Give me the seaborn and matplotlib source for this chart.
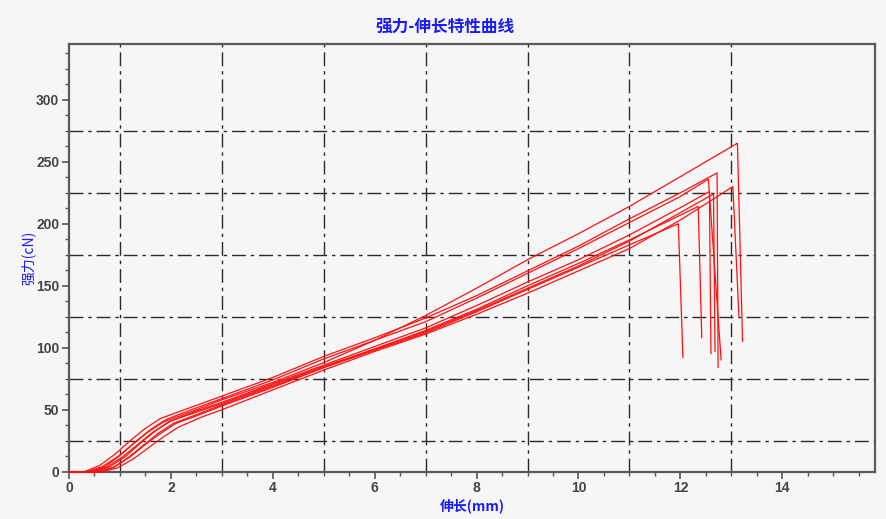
import numpy as np
import pandas as pd
import matplotlib
matplotlib.use("Agg")
import matplotlib.pyplot as plt
from matplotlib.ticker import MultipleLocator
import seaborn as sns

# ---- data ----
title_text = "强力-伸长特性曲线"
x_label = "伸长(mm)"
y_label = "强力(cN)"

curve_A_x = [0, 0.35, 0.65, 0.95, 1.25, 1.55, 1.85, 2.5, 3, 4, 5, 6, 7, 8, 9, 10, 11, 12, 13.12, 13.22]
curve_A_y = [0, 0, 4, 12, 22, 32, 40, 50, 58, 72, 88, 106, 126, 148, 171, 192, 214, 238, 265, 105]

curve_B_x = [0, 0.65, 0.95, 1.25, 1.55, 1.85, 2.15, 2.6, 3, 4, 5, 6, 7, 8, 9, 10, 11, 12, 13.03, 13.15]
curve_B_y = [0, 0, 3, 10, 19, 28, 36, 44, 50, 66, 82, 97, 111, 127, 144, 162, 180, 203, 230, 125]

curve_C_x = [0, 0.3, 0.6, 0.9, 1.2, 1.5, 1.8, 2.4, 3, 4, 5, 6, 7, 8, 9, 10, 11, 12, 12.72, 12.74]
curve_C_y = [0, 0, 5, 14, 25, 35, 43, 52, 61, 76, 93, 108, 124, 142, 162, 182, 204, 225, 241, 84]

curve_D_x = [0, 0.4, 0.7, 1.0, 1.3, 1.6, 1.9, 2.4, 3, 4, 5, 6, 7, 8, 9, 10, 11, 12, 12.55, 12.8]
curve_D_y = [0, 0, 4, 13, 24, 34, 42, 50, 59, 74, 91, 106, 121, 140, 160, 180, 201, 222, 236, 90]

curve_E_x = [0, 0.45, 0.75, 1.05, 1.35, 1.65, 1.95, 2.5, 3, 4, 5, 6, 7, 8, 9, 10, 11, 12, 12.57, 12.6]
curve_E_y = [0, 0, 4, 12, 22, 32, 40, 49, 56, 71, 86, 101, 116, 134, 153, 171, 191, 213, 226, 95]

curve_F_x = [0, 0.5, 0.8, 1.1, 1.4, 1.7, 2.0, 2.5, 3, 4, 5, 6, 7, 8, 9, 10, 11, 12, 12.35, 12.42]
curve_F_y = [0, 0, 4, 12, 23, 33, 41, 48, 55, 70, 85, 99, 114, 131, 150, 168, 187, 207, 214, 108]

curve_G_x = [0, 0.55, 0.85, 1.15, 1.45, 1.75, 2.05, 2.5, 3, 4, 5, 6, 7, 8, 9, 10, 11, 11.96, 12.05]
curve_G_y = [0, 0, 3, 11, 21, 31, 39, 46, 54, 69, 84, 98, 112, 129, 147, 165, 183, 200, 92]

curve_H_x = [0, 0.6, 0.9, 1.2, 1.5, 1.8, 2.1, 2.5, 3, 4, 5, 6, 7, 8, 9, 10, 11, 12, 12.65, 12.68]
curve_H_y = [0, 0, 4, 12, 22, 31, 39, 45, 53, 68, 84, 99, 113, 130, 148, 166, 186, 209, 224, 97]

curves = {
    "A": (curve_A_x, curve_A_y),
    "B": (curve_B_x, curve_B_y),
    "C": (curve_C_x, curve_C_y),
    "D": (curve_D_x, curve_D_y),
    "E": (curve_E_x, curve_E_y),
    "F": (curve_F_x, curve_F_y),
    "G": (curve_G_x, curve_G_y),
    "H": (curve_H_x, curve_H_y),
}

x_ticks = [0, 2, 4, 6, 8, 10, 12, 14]
y_ticks = [0, 50, 100, 150, 200, 250, 300]

rows = []
for name, (xs, ys) in curves.items():
    for i, (xv, yv) in enumerate(zip(xs, ys)):
        rows.append({"curve": name, "order": i, "x": xv, "y": yv})
df = pd.DataFrame(rows)

# ---- style ----
sns.set_style("ticks")
plt.rcParams["font.family"] = ["Noto Sans CJK SC", "DejaVu Sans"]
bg = "#f6f6f6"

fig = plt.figure(figsize=(8.86, 5.19), dpi=100, facecolor=bg)
ax = fig.add_axes([69 / 886, 1 - 471.7 / 519, (875 - 69) / 886, (471.7 - 44) / 519])
ax.set_facecolor(bg)

# grid (dash-dot)
grid_style = dict(color="#2a2a2a", lw=1.0, dashes=(10, 3.5, 2.5, 3.5), zorder=1)
for gx in [1, 3, 5, 7, 9, 11, 13]:
    ax.axvline(gx, **grid_style)
for gy in [25, 75, 125, 175, 225, 275]:
    ax.axhline(gy, **grid_style)

sns.lineplot(data=df, x="x", y="y", units="curve", estimator=None, sort=False,
             color="#ff1010", lw=0.9, ax=ax, legend=False, zorder=3, clip_on=False)

ax.set_xlim(0, 15.82)
ax.set_ylim(0, 345)
ax.set_xticks(x_ticks)
ax.set_yticks(y_ticks)
ax.xaxis.set_minor_locator(MultipleLocator(0.5))
ax.yaxis.set_minor_locator(MultipleLocator(12.5))
ax.tick_params(axis="both", which="major", length=5, width=1.2, color="#555555",
               labelsize=10, labelcolor="#444444", direction="out", pad=2)
ax.tick_params(axis="both", which="minor", length=3, width=1.0, color="#555555", direction="out")
for lab in ax.get_xticklabels() + ax.get_yticklabels():
    lab.set_fontfamily(["Liberation Sans", "DejaVu Sans"])
    lab.set_fontweight("bold")

for s in ax.spines.values():
    s.set_color("#5a5a5a")
    s.set_linewidth(1.6)

ax.set_xlabel(x_label, color="#1a1aff", fontsize=10, labelpad=2, fontweight="bold")
ax.set_ylabel(y_label, color="#1a1aff", fontsize=10, labelpad=0)
fig.text(0.502, 1 - 27 / 519, title_text, color="#1a1aff", fontsize=12,
         ha="center", va="center", fontweight="bold")

fig.savefig("out.png", dpi=100, facecolor=bg)
